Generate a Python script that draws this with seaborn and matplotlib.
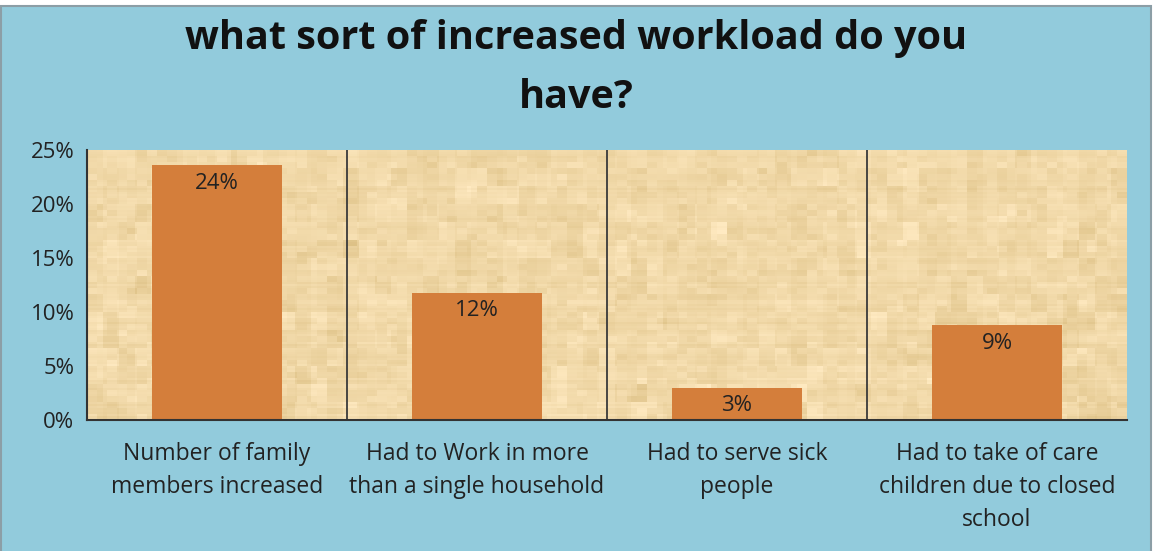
import numpy as np
import pandas as pd
import matplotlib
matplotlib.use("Agg")
import matplotlib.pyplot as plt
import matplotlib.patches as mpatches
from matplotlib.ticker import PercentFormatter
import seaborn as sns

# Survey answers and their shares of respondents
categories = [
    "Number of family\nmembers increased",
    "Had to Work in more\nthan a single household",
    "Had to serve sick\npeople",
    "Had to take of care\nchildren due to closed\nschool",
]
shares = [0.236, 0.118, 0.030, 0.088]
y_ticks = [0.00, 0.05, 0.10, 0.15, 0.20, 0.25]
title_lines = ["what sort of increased workload do you", "have?"]

BG = "#92CBDC"
BAR = "#D47E3B"
TEXT = "#222222"
FONT = ["Open Sans", "DejaVu Sans"]

sns.set_theme(style="white")
plt.rcParams["font.family"] = FONT

W, H = 1153, 551
fig = plt.figure(figsize=(W / 100, H / 100), dpi=100, facecolor="white")

# Blue panel with thin grey frame, leaving a narrow white strip at the top
fig.patches.append(mpatches.Rectangle(
    (1 / W, -0.02), (W - 3) / W, 1.02 - 6 / H,
    transform=fig.transFigure, facecolor=BG, edgecolor="#8C9EA6",
    linewidth=1.5, zorder=-1))

ax = fig.add_axes([87 / W, 1 - 420 / H, (1127 - 87) / W, (420 - 150) / H])
ax.set_zorder(1)
ax.set_facecolor("#F0D8A6")

# Parchment texture behind the bars: overlapping soft blocks plus fine streaks
rng = np.random.default_rng(11)
rows, cols = 135, 520
base = np.array([0.945, 0.850, 0.660])
coarse = rng.normal(0, 1, (rows // 9 + 1, cols // 8 + 1))
coarse = np.kron(coarse, np.ones((9, 8)))[:rows, :cols]
mid = rng.normal(0, 1, (rows // 3 + 1, cols // 5 + 1))
mid = np.kron(mid, np.ones((3, 5)))[:rows, :cols]
streak = rng.normal(0, 1, (rows, 1)) * 0.4
v = 0.014 * (coarse + 0.8 * mid + streak)
tex = np.clip(base[None, None, :] + v[..., None] * np.array([0.9, 1.1, 1.6]), 0, 1)
ax.imshow(tex, extent=[0, 1, 0, 1], transform=ax.transAxes, aspect="auto",
          interpolation="nearest", zorder=0)

df = pd.DataFrame({"category": categories, "share": shares})
sns.barplot(data=df, x="category", y="share", order=categories, color=BAR,
            width=0.5, saturation=1, linewidth=0, edgecolor="none",
            ax=ax, zorder=2)

for i, val in enumerate(shares):
    ax.annotate(f"{val * 100:.0f}%", (i, val), xytext=(0, -5.5),
                textcoords="offset points", ha="center", va="top",
                fontsize=16, color=TEXT, zorder=3)

for xpos in (0.5, 1.5, 2.5):
    ax.axvline(xpos, color="#3A3A3A", linewidth=1.3, zorder=1)

ax.set_xlim(-0.5, 3.5)
ax.set_ylim(0, 0.25)
ax.set_yticks(y_ticks)
ax.yaxis.set_major_formatter(PercentFormatter(1.0, decimals=0))
ax.set_xlabel("")
ax.set_ylabel("")
ax.tick_params(axis="both", length=0, colors=TEXT)
ax.tick_params(axis="y", pad=9, labelsize=16)
ax.tick_params(axis="x", pad=15.5, labelsize=16.5)
for lbl in ax.get_xticklabels():
    lbl.set_linespacing(1.5)

for side in ("top", "right"):
    ax.spines[side].set_visible(False)
for side in ("left", "bottom"):
    ax.spines[side].set_color("#333333")
    ax.spines[side].set_linewidth(1.5)

fig.text(0.5, 1 - 38 / H, title_lines[0], ha="center", va="center",
         fontsize=28.5, fontweight="bold", color="#111111")
fig.text(0.5, 1 - 97 / H, title_lines[1], ha="center", va="center",
         fontsize=28.5, fontweight="bold", color="#111111")

fig.savefig("out.png", dpi=100, facecolor="white")
